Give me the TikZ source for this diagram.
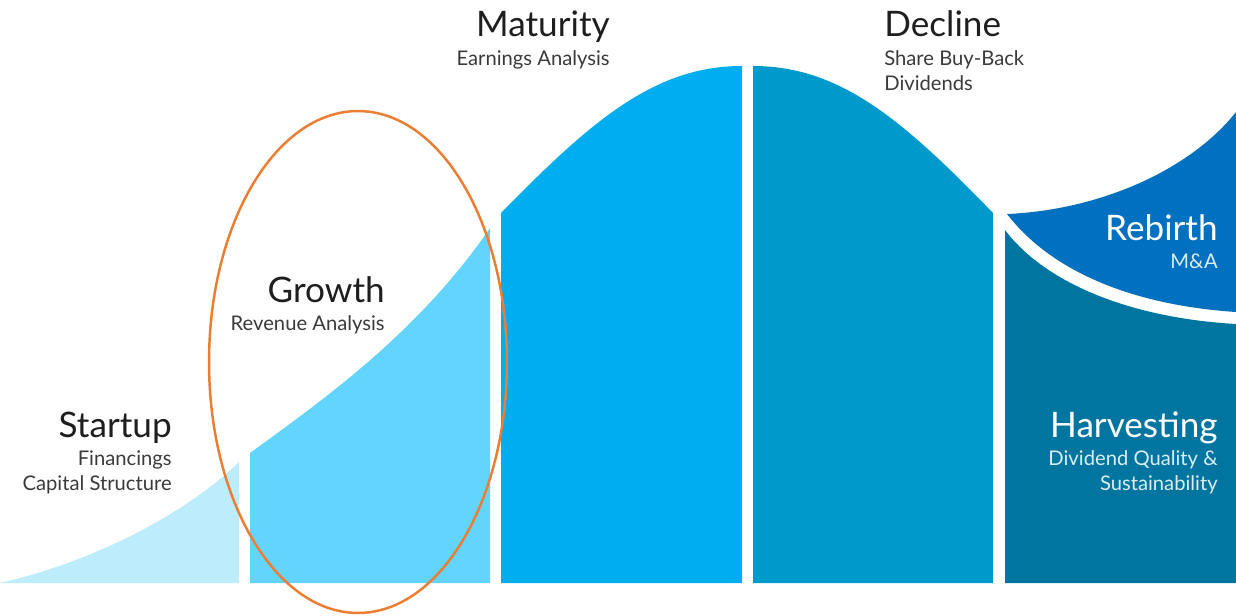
\documentclass[tikz,border=0pt]{standalone}
\usepackage{fontspec}
\setmainfont{Lato}
\usetikzlibrary{positioning}

\definecolor{startupblue}{HTML}{BDEDFD}
\definecolor{growthblue}{HTML}{62D4FE}
\definecolor{maturityblue}{HTML}{00AEEF}
\definecolor{declineblue}{HTML}{0099CC}
\definecolor{rebirthblue}{HTML}{0070C0}
\definecolor{harvestblue}{HTML}{00759F}
\definecolor{ringorange}{HTML}{ED7D31}
\definecolor{titlegray}{HTML}{1E1E1E}
\definecolor{subgray}{HTML}{3A3A3A}
\definecolor{subwhite}{HTML}{DCEEF5}

\begin{document}
\begin{tikzpicture}[x=0.02cm,y=-0.02cm,
	stagetitle/.style={inner sep=0,text=titlegray,font=\fontsize{20}{24}\selectfont},
	stagesub/.style={inner sep=0,text=subgray,align=right,font=\fontsize{11.5}{14.2}\selectfont}]
		
		\useasboundingbox (0,0) rectangle (1236,615);
		
		
		% stages of the curve
		\fill[startupblue] (0,583) .. controls (100,560) and (190,510) .. (239,462) -- (239,583) -- cycle;
		\fill[growthblue] (250,583) -- (250,453) .. controls (330,395) and (420,330) .. (490,228) -- (490,583) -- cycle;
		\fill[maturityblue] (501,583) -- (501,213) .. controls (592,120) and (655,66) .. (742,66) -- (742,583) -- cycle;
		\fill[declineblue] (753,583) -- (753,66) .. controls (840,66) and (903,120) .. (993,213) -- (993,583) -- cycle;
		
		
		\fill[harvestblue] (1005,583) -- (1005,230) .. controls (1045,283) and (1130,318) .. (1236,324) -- (1236,583) -- cycle;
		\fill[rebirthblue] (1007,214) .. controls (1100,210) and (1190,170) .. (1236,112) -- (1236,312) .. controls (1130,305) and (1050,270) .. (1007,214) -- cycle;
		
		
		% labels
		\node[stagetitle,anchor=base east] (startup) at (172,437) {Startup};
		\node[stagesub,below=7.5pt of startup.base east,anchor=north east] (startupsub) {Financings\\Capital Structure};
		
		\node[stagetitle,anchor=base east] (growth) at (385,302) {Growth};
		\node[stagesub,below=7.5pt of growth.base east,anchor=north east] (growthsub) {Revenue Analysis};
		
		\node[stagetitle,anchor=base east] (maturity) at (610,37) {Maturity};
		\node[stagesub,below=7.5pt of maturity.base east,anchor=north east] (maturitysub) {Earnings Analysis};
		
		\node[stagetitle,anchor=base west] (decline) at (884,37) {Decline};
		\node[stagesub,align=left,below=7.5pt of decline.base west,anchor=north west] (declinesub) {Share Buy-Back\\Dividends};
		
		\node[stagetitle,text=white,anchor=base east] (rebirth) at (1218,240) {Rebirth};
		\node[stagesub,text=subwhite,below=7.5pt of rebirth.base east,anchor=north east] (rebirthsub) {M\&A};
		
		\node[stagetitle,text=white,anchor=base east] (harvesting) at (1218,437) {Harvesting};
		\node[stagesub,text=subwhite,below=7.5pt of harvesting.base east,anchor=north east] (harvestingsub) {Dividend Quality \&\\Sustainability};
		
		
		% highlight
		\draw[ringorange,line width=1.4pt] (358,362) ellipse [x radius=2.98cm,y radius=5.02cm];
		
		
	\end{tikzpicture}
\end{document}
